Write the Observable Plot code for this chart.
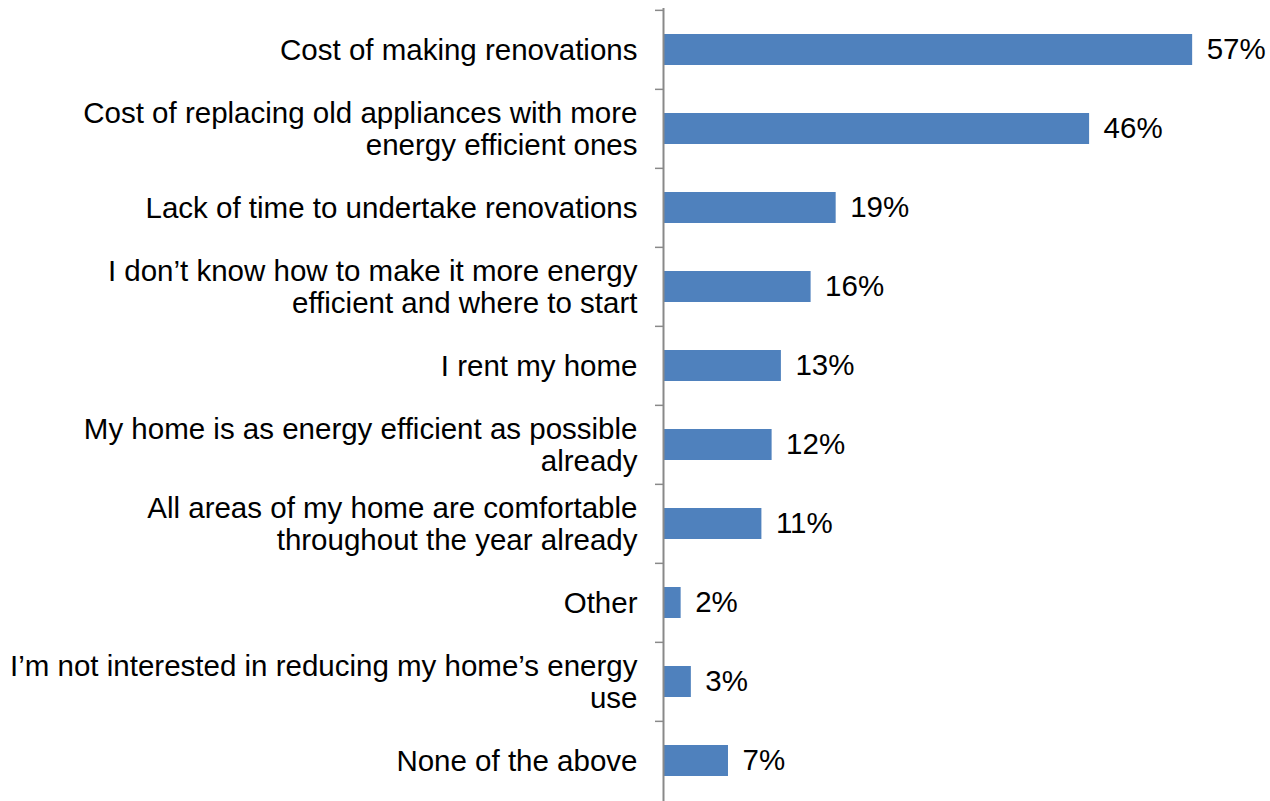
<!DOCTYPE html>
<html>
<head>
<meta charset="utf-8">
<script src="https://cdn.jsdelivr.net/npm/d3@7"></script>
<script src="https://cdn.jsdelivr.net/npm/@observablehq/plot@0.6"></script>
<style>
  html, body { margin: 0; padding: 0; background: #ffffff; }
  #chart svg { display: block; }
</style>
</head>
<body>
<div id="chart"></div>
<script>
const categories = [
  "Cost of making renovations",
  "Cost of replacing old appliances with more\nenergy efficient ones",
  "Lack of time to undertake renovations",
  "I don\u2019t know how to make it more energy\nefficient and where to start",
  "I rent my home",
  "My home is as energy efficient as possible\nalready",
  "All areas of my home are comfortable\nthroughout the year already",
  "Other",
  "I\u2019m not interested in reducing my home\u2019s energy\nuse",
  "None of the above"
];
const values = [57, 45.9, 18.6, 15.9, 12.7, 11.7, 10.6, 1.9, 3.0, 7.0];
const valueLabels = ["57%", "46%", "19%", "16%", "13%", "12%", "11%", "2%", "3%", "7%"];

const data = categories.map((c, i) => ({category: c, value: values[i], label: valueLabels[i]}));

const width = 1270, height = 801;
const marginLeft = 663, marginTop = 8, marginBottom = 0, marginRight = 50;
const step = (height - marginTop - marginBottom) / categories.length;
const font = "Liberation Sans, Arial, Helvetica, sans-serif";

const chart = Plot.plot({
  width, height, marginLeft, marginTop, marginBottom, marginRight,
  style: {fontFamily: font, background: "#ffffff", overflow: "visible"},
  x: {domain: [0, 60], axis: null},
  y: {domain: categories, padding: 0, axis: null},
  marks: [
    Plot.barX(data, {y: "category", x: "value", fill: "#4F81BD", insetTop: 24, insetBottom: 24}),
    Plot.axisY({tickSize: 8, tickFormat: () => "", label: null, stroke: "#898989", strokeWidth: 1.5, dy: -step / 2, strokeOpacity: 1}),
    Plot.ruleX([0], {stroke: "#898989", strokeWidth: 2}),
    Plot.text(data, {y: "category", x: 0, text: "category", textAnchor: "end", dx: -26, fontSize: 29.5, lineHeight: 1.06, fill: "#000000"}),
    Plot.text(data, {y: "category", x: "value", text: "label", textAnchor: "start", dx: 14, fontSize: 29.5, fill: "#000000"})
  ]
});
document.getElementById("chart").append(chart);
</script>
</body>
</html>
